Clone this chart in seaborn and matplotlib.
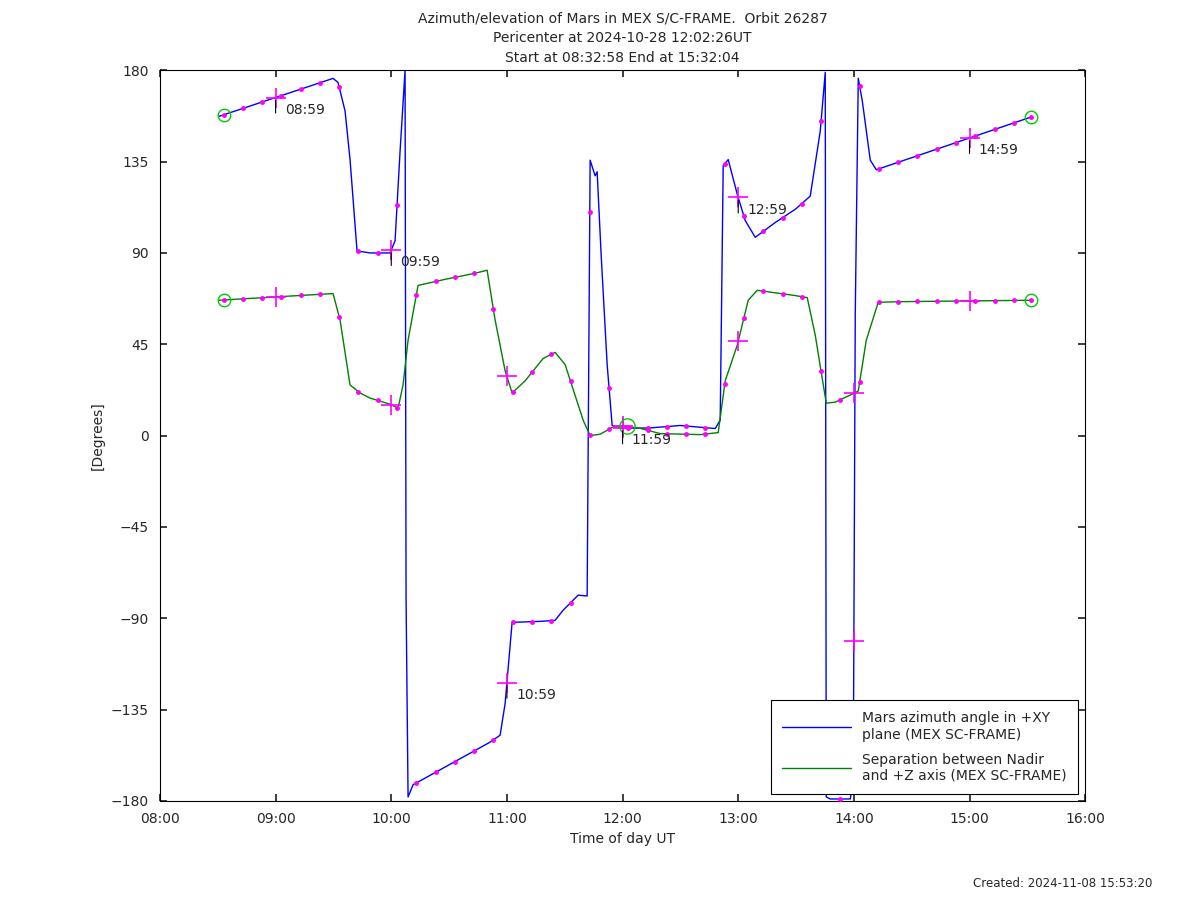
import matplotlib
matplotlib.use("Agg")
import matplotlib.pyplot as plt
import seaborn as sns
import numpy as np

sns.set_theme(style="white")
plt.rcParams['font.family'] = ['DejaVu Sans']

def px_to_h(px):
    return 8 + (np.array(px, dtype=float) - 160) / 115.6

# Mars azimuth angle (deg)
az_px = [219, 333, 338, 345, 350, 357, 370, 390, 395, 400, 405, 406, 408, 413, 490, 500, 505, 512,
         540, 555, 563, 578, 587, 590, 595, 597, 601, 607, 612, 622, 650, 680, 715, 720,
         723, 728, 737, 745, 755, 775, 795, 810, 820, 825, 826, 830, 850, 853, 855, 858, 862,
         870, 876, 1031]
az_val = [157.3, 176, 174, 160, 136, 91, 90, 90, 96, 140, 180, -80, -178, -172, -151, -147.6, -132, -92,
          -91.5, -91, -86, -78.6, -79, 135.7, 128, 130, 89, 35, 5, 3.6, 3.8, 5, 3.5, 7.6,
          133, 136, 119, 106, 97.7, 105, 111.5, 118, 150, 179, -178, -179, -179, -170, 60, 176, 165,
          135.7, 131, 157]
az_t = px_to_h(az_px)

# Separation between Nadir and +Z axis (deg)
sep_px = [219, 333, 340, 350, 360, 370, 390, 398, 403, 408, 418, 427, 445, 475, 487, 495, 505,
          512, 525, 543, 555, 565, 583, 590, 600, 612, 620, 640, 660, 700, 718, 725, 737, 748,
          757, 795, 807, 815, 826, 835, 850, 858, 866, 878, 900, 1031]
sep_val = [66.7, 70, 57, 25, 21, 18.5, 15.5, 13.5, 25, 47, 74, 75, 77, 80, 81.5, 57, 32,
           21, 27, 38, 41, 35, 7.6, 0, 0.7, 4, 5, 3.6, 1, 0.5, 1.5, 27, 44.5, 66.7,
           71.6, 69, 68, 49.5, 16, 16.5, 20, 22, 47, 65.7, 66, 66.7]
sep_t = px_to_h(sep_px)

t_start, t_end, t_peri = 8 + 33 / 60, 15 + 32 / 60, 12 + 2.4 / 60
hour_marks = [9, 10, 11, 12, 13, 14, 15]
hour_labels = {9: "08:59", 10: "09:59", 11: "10:59", 12: "11:59", 13: "12:59", 15: "14:59"}

fig = plt.figure(figsize=(12, 9.01), dpi=100)
ax = fig.add_axes([0.1333, 0.111, 0.771, 0.811])

sns.lineplot(x=az_t, y=az_val, color="blue", lw=1, ax=ax, sort=False,
             label="Mars azimuth angle in +XY\nplane (MEX SC-FRAME)")
sns.lineplot(x=sep_t, y=sep_val, color="green", lw=1, ax=ax, sort=False,
             label="Separation between Nadir\nand +Z axis (MEX SC-FRAME)")

# 10-minute markers
tm = np.arange(t_start + 10 / 60, t_end, 10 / 60)
for t, v in [(az_t, az_val), (sep_t, sep_val)]:
    ax.plot(tm, np.interp(tm, t, v), ".", color="magenta", ms=5, zorder=3)
    hm = np.array(hour_marks, dtype=float)
    ax.plot(hm, np.interp(hm, t, v), "+", color="magenta", ms=14, mew=1.2, zorder=3)
    ends = np.array([t_start, t_end])
    ax.plot(ends, np.interp(ends, t, v), "o", mfc="none", mec="#00cc00", ms=9, zorder=3)
    ax.plot(ends, np.interp(ends, t, v), ".", color="magenta", ms=5, zorder=3)
ax.plot([t_peri], [np.interp(t_peri, sep_t, sep_val)], "o", mfc="none", mec="#00cc00", ms=11, zorder=3)

for h, lab in hour_labels.items():
    y = np.interp(h, az_t, az_val)
    ax.annotate("", xy=(h, y), xytext=(h, y - 9), arrowprops=dict(arrowstyle="-", color="black", lw=0.8))
    ax.text(h + 0.08, y - 6, lab, fontsize=10, va="center", ha="left")

ax.set_xlim(8, 16)
ax.set_ylim(-180, 180)
ax.set_xticks(range(8, 17))
ax.set_xticklabels([f"{h:02d}:00" for h in range(8, 17)])
ax.set_yticks(range(-180, 181, 45))
ax.tick_params(direction="in", length=5, labelsize=10, right=True, top=True, pad=8)
ax.tick_params(axis="both", which="both", bottom=True, left=True)
for s in ax.spines.values():
    s.set_color("black")
    s.set_linewidth(0.8)
ax.set_xlabel("Time of day UT", fontsize=10)
ax.set_ylabel("[Degrees]", fontsize=10)
ax.set_title("Azimuth/elevation of Mars in MEX S/C-FRAME.  Orbit 26287\n"
             "Pericenter at 2024-10-28 12:02:26UT\nStart at 08:32:58 End at 15:32:04",
             fontsize=10, linespacing=1.5)
leg = ax.legend(loc="lower right", fontsize=10, fancybox=False, framealpha=1,
                edgecolor="black", handlelength=5, borderpad=0.8, labelspacing=0.8)
leg.get_frame().set_linewidth(0.8)
fig.text(0.96, 0.015, "Created: 2024-11-08 15:53:20", ha="right", fontsize=8.5)

fig.savefig("out.png", dpi=100)
